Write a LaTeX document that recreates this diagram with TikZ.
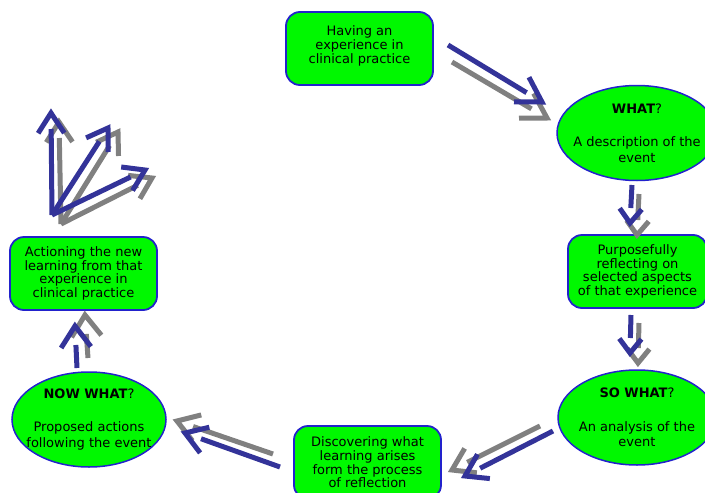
\documentclass[tikz,border=0pt]{standalone}
\usepackage{fontspec}
\setmainfont{DejaVu Sans}
\usetikzlibrary{shapes.geometric,calc}
\definecolor{nodegreen}{RGB}{0,248,0}
\definecolor{nodeblue}{RGB}{34,34,204}
\definecolor{arrowblue}{RGB}{51,51,153}
\definecolor{arrowgray}{RGB}{128,128,128}
% #1 style, #2 start, #3 tip, #4 arm length, #5 half angle, #6 gap
\newcommand\fatarrow[6]{%
  \draw[#1] (#2) -- ($(#3)!#6!(#2)$);
  \draw[#1] ($(#3)!#4!#5:(#2)$) -- (#3) -- ($(#3)!#4!-#5:(#2)$);
}
\begin{document}
\begin{tikzpicture}[x=1pt,y=-1pt,
  box/.style={draw=nodeblue, line width=1.8pt, fill=nodegreen, rounded corners=14pt,
    minimum height=73pt, inner sep=0pt, align=center,
    font=\fontsize{13}{13.6}\selectfont},
  boxtext/.style={align=center, inner sep=0pt, font=\fontsize{13}{13.8}\selectfont},
  oval/.style={ellipse, draw=nodeblue, line width=1.5pt, fill=nodegreen,
    minimum height=95pt, inner sep=0pt},
  ovaltext/.style={align=center, inner sep=0pt, font=\fontsize{13}{15.5}\selectfont},
  bluearr/.style={draw=arrowblue, line width=5pt, line cap=butt, line join=miter},
  grayarr/.style={draw=arrowgray, line width=5pt, line cap=butt, line join=miter}]
\useasboundingbox (0,0) rectangle (705,493);

% nodes
\node[box, minimum width=147pt, label={[boxtext,yshift=2.5pt]center:{Having an\\experience in\\clinical practice}}] (exp) at (359.5,48.5) {};
\node[oval, minimum width=160pt, label={[ovaltext]center:{\textbf{WHAT}?\\[18pt]A description of the\\event}}] (what) at (637,133) {};
\node[box, minimum width=139pt] (refl) at (637.5,271.5) {Purposefully\\reflecting on\\selected aspects\\of that experience};
\node[oval, minimum width=158pt, label={[ovaltext]center:{\textbf{SO WHAT}?\\[18pt]An analysis of the\\event}}] (sowhat) at (637,417.5) {};
\node[box, minimum width=147pt] (disc) at (367.5,462.5) {Discovering what\\learning arises\\form the process\\of reflection};
\node[oval, minimum width=154pt, label={[ovaltext]center:{\textbf{NOW WHAT}?\\[18pt]Proposed actions\\following the event}}] (nowwhat) at (89,419.5) {};
\node[box, minimum width=147pt] (act) at (83.5,273.5) {Actioning the new\\learning from that\\experience in\\clinical practice};

% arrow coordinates
\coordinate (As) at (448,45);  \coordinate (At) at (542,102);
\coordinate (Ags) at (452,62); \coordinate (Agt) at (547,118);
\coordinate (Bs) at (632,185); \coordinate (Bt) at (630,223);
\coordinate (Bgs) at (639,194); \coordinate (Bgt) at (637,235);
\coordinate (Cs) at (631,315); \coordinate (Ct) at (630,353);
\coordinate (Cgs) at (639,323); \coordinate (Cgt) at (638,363);
\coordinate (Ds) at (553,431); \coordinate (Dt) at (465,476);
\coordinate (Dgs) at (540,426); \coordinate (Dgt) at (452,470);
\coordinate (Es) at (280,467); \coordinate (Et) at (185,433);
\coordinate (Egs) at (273,454); \coordinate (Egt) at (177,421);
\coordinate (Fs) at (77,368); \coordinate (Ft) at (75,326);
\coordinate (Fgs) at (88,358); \coordinate (Fgt) at (85,315);
\coordinate (Gs) at (52,215);
\coordinate (G1t) at (51,113); \coordinate (G2t) at (108,128); \coordinate (G3t) at (145,170);
\coordinate (Ggs) at (61,224);
\coordinate (G1gt) at (59,122); \coordinate (G2gt) at (118,132); \coordinate (G3gt) at (152,178);

% gray shadows
\fatarrow{grayarr}{Ags}{Agt}{28pt}{31}{18pt}
\fatarrow{grayarr}{Bgs}{Bgt}{18pt}{38}{15pt}
\fatarrow{grayarr}{Cgs}{Cgt}{18pt}{38}{15pt}
\fatarrow{grayarr}{Dgs}{Dgt}{25pt}{33}{17pt}
\fatarrow{grayarr}{Egs}{Egt}{25pt}{33}{17pt}
\fatarrow{grayarr}{Fgs}{Fgt}{26pt}{35}{19pt}
\fatarrow{grayarr}{Ggs}{G1gt}{24pt}{33}{16pt}
\fatarrow{grayarr}{Ggs}{G2gt}{24pt}{33}{16pt}
\fatarrow{grayarr}{Ggs}{G3gt}{24pt}{33}{16pt}
% blue arrows
\fatarrow{bluearr}{As}{At}{28pt}{31}{18pt}
\fatarrow{bluearr}{Bs}{Bt}{18pt}{38}{15pt}
\fatarrow{bluearr}{Cs}{Ct}{18pt}{38}{15pt}
\fatarrow{bluearr}{Ds}{Dt}{25pt}{33}{17pt}
\fatarrow{bluearr}{Es}{Et}{25pt}{33}{17pt}
\fatarrow{bluearr}{Fs}{Ft}{26pt}{35}{19pt}
\fatarrow{bluearr}{Gs}{G1t}{24pt}{33}{16pt}
\fatarrow{bluearr}{Gs}{G2t}{24pt}{33}{16pt}
\fatarrow{bluearr}{Gs}{G3t}{24pt}{33}{16pt}
\end{tikzpicture}
\end{document}
